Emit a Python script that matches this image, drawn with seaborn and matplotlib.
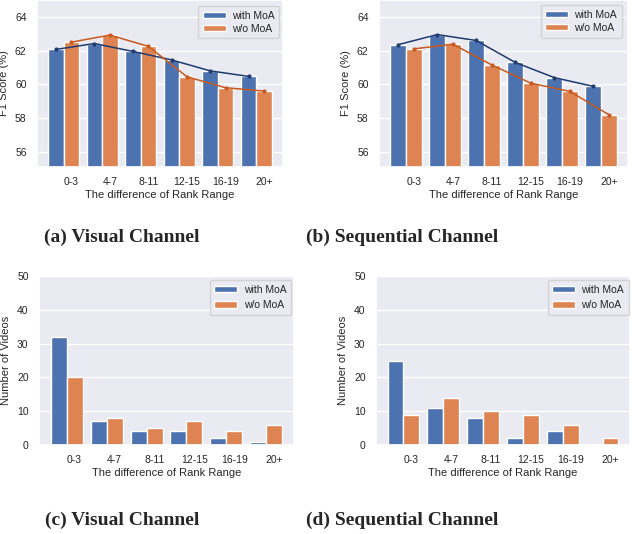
"""Rank-range comparison of MoA vs no MoA (F1 score and video counts)."""

import numpy as np
import pandas as pd
import matplotlib
matplotlib.use("Agg")
import matplotlib.pyplot as plt
import seaborn as sns

# categories
rank_ranges = ['0-3', '4-7', '8-11', '12-15', '16-19', '20+']
series_names = ['with MoA', 'w/o MoA']

# F1 score (%) per rank range
f1_visual_with = [62.07, 62.42, 61.95, 61.45, 60.80, 60.47]
f1_visual_without = [62.50, 62.92, 62.25, 60.45, 59.80, 59.60]
f1_seq_with = [62.35, 62.95, 62.60, 61.30, 60.40, 59.88]
f1_seq_without = [62.10, 62.38, 61.15, 60.07, 59.58, 58.20]

# number of videos per rank range
cnt_visual_with = [32, 7, 4, 4, 2, 1]
cnt_visual_without = [20, 8, 5, 7, 4, 6]
cnt_seq_with = [25, 11, 8, 2, 4, 0]
cnt_seq_without = [9, 14, 10, 9, 6, 2]

captions = ['(a) Visual Channel', '(b) Sequential Channel',
            '(c) Visual Channel', '(d) Sequential Channel']

sns.set_theme(style='darkgrid')
plt.rcParams['font.family'] = ['Liberation Sans', 'DejaVu Sans']

palette = sns.color_palette('deep')
bar_colors = [palette[0], palette[1]]
line_colors = ['#1f3b6f', '#c9591d']

W, H = 632, 534
fig = plt.figure(figsize=(W / 100, H / 100), dpi=100)


def px_axes(left, top, right, bottom):
    return fig.add_axes([left / W, 1 - bottom / H, (right - left) / W, (bottom - top) / H])


def long_table(with_vals, without_vals):
    return pd.DataFrame({
        'range': rank_ranges * 2,
        'value': list(with_vals) + list(without_vals),
        'model': [series_names[0]] * len(rank_ranges) + [series_names[1]] * len(rank_ranges),
    })


def draw_panel(ax, with_vals, without_vals, ylabel, ylim, yticks, lines, legend_anchor,
               legend_spacing):
    df = long_table(with_vals, without_vals)
    sns.barplot(data=df, x='range', y='value', hue='model', hue_order=series_names,
                palette=bar_colors, ax=ax, width=0.8, edgecolor='white', linewidth=1,
                saturation=1, zorder=2)
    x = np.arange(len(rank_ranges))
    if lines:
        for k, vals in enumerate([with_vals, without_vals]):
            offset = -0.2 if k == 0 else 0.2
            sns.lineplot(x=x + offset, y=vals, ax=ax, color=line_colors[k], marker='o',
                         markersize=3, markeredgewidth=0, linewidth=1.1, legend=False, zorder=3)
    ax.set_xticks(x + 0.2)
    ax.set_xticklabels(rank_ranges, fontsize=7.5)
    ax.set_xlim(-0.69, 5.69)
    ax.set_ylim(*ylim)
    ax.set_yticks(yticks)
    ax.set_yticklabels([str(t) for t in yticks], fontsize=7.5)
    ax.tick_params(axis='both', length=0, pad=7.5)
    ax.set_xlabel('The difference of Rank Range', fontsize=8, labelpad=2)
    ax.set_ylabel(ylabel, fontsize=8, labelpad=4)
    handles, labels = ax.get_legend_handles_labels()
    ax.legend(handles[:2], labels[:2], loc='upper right', bbox_to_anchor=legend_anchor,
              fontsize=7.5, handlelength=2.2, handleheight=0.6, borderpad=0.45,
              labelspacing=legend_spacing, handletextpad=0.6, borderaxespad=0)


ax_a = px_axes(37, 0, 283, 167)
draw_panel(ax_a, f1_visual_with, f1_visual_without, 'F1 Score (%)', (55.1, 65.0),
           [56, 58, 60, 62, 64], True, (0.984, 0.965), 0.3)
ax_b = px_axes(379, 0, 628, 167)
draw_panel(ax_b, f1_seq_with, f1_seq_without, 'F1 Score (%)', (55.1, 65.0),
           [56, 58, 60, 62, 64], True, (0.975, 0.97), 0.3)
ax_c = px_axes(39, 276, 294, 445)
draw_panel(ax_c, cnt_visual_with, cnt_visual_without, 'Number of Videos', (0, 50),
           [0, 10, 20, 30, 40, 50], False, (0.988, 0.976), 0.55)
ax_d = px_axes(376, 276, 630, 445)
draw_panel(ax_d, cnt_seq_with, cnt_seq_without, 'Number of Videos', (0, 50),
           [0, 10, 20, 30, 40, 50], False, (0.995, 0.976), 0.55)

cap_font = dict(family='Liberation Serif', fontweight='bold', fontsize=14,
                ha='center', va='center')
fig.text(122 / W, 1 - 237 / H, captions[0], **cap_font)
fig.text(402 / W, 1 - 237 / H, captions[1], **cap_font)
fig.text(122 / W, 1 - 520 / H, captions[2], **cap_font)
fig.text(402 / W, 1 - 520 / H, captions[3], **cap_font)

fig.savefig('out.png', dpi=100)
